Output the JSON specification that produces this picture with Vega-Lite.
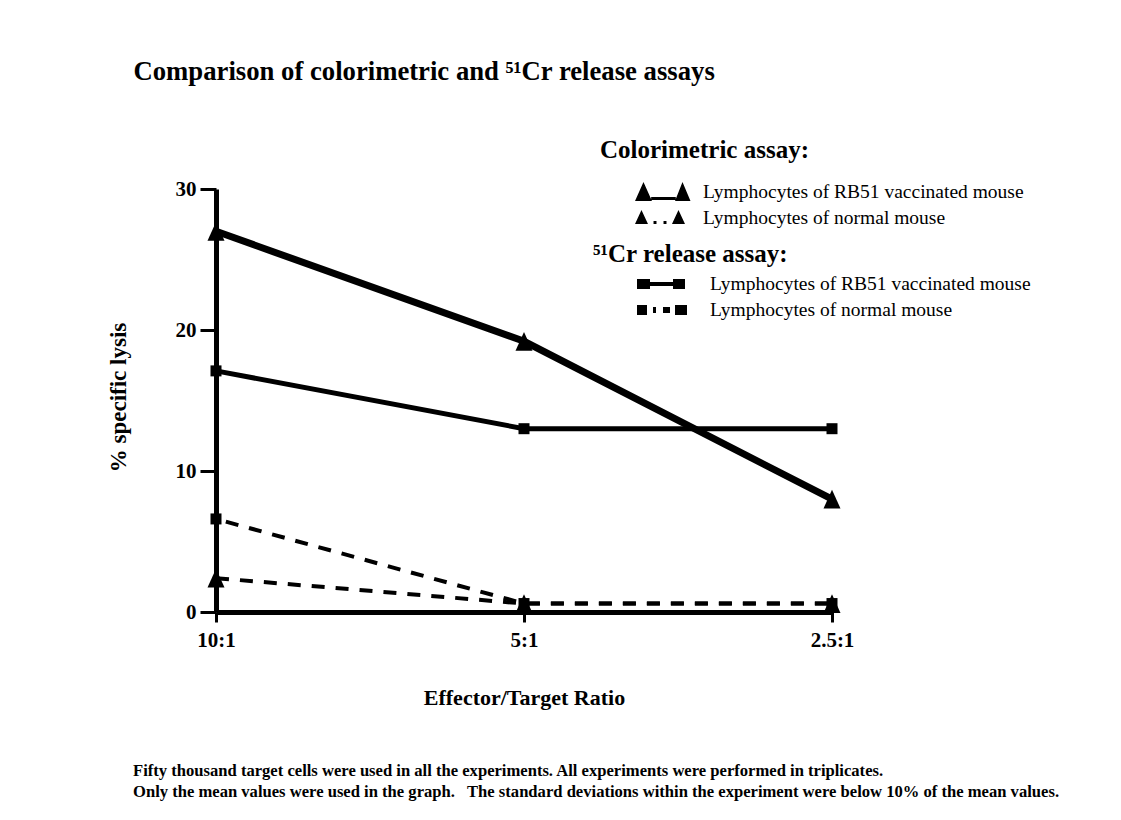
{
  "$schema": "https://vega.github.io/schema/vega-lite/v6.json",
  "width": 616,
  "height": 423,
  "autosize": {"type": "none"},
  "padding": {"left": 216, "top": 189, "right": 289, "bottom": 208},
  "background": "white",
  "title": {
    "text": ["Fifty thousand target cells were used in all the experiments. All experiments were performed in triplicates.", "Only the mean values were used in the graph.\u00a0\u00a0 The standard deviations within the experiment were below 10% of the mean values."],
    "orient": "bottom",
    "anchor": "start",
    "frame": "group",
    "dx": -83,
    "offset": 55,
    "font": "Liberation Serif",
    "fontSize": 16.6,
    "fontWeight": "bold",
    "lineHeight": 21,
    "color": "black"
  },
  "data": {
    "values": [
      {"ratio": "10:1", "assay": "Colorimetric", "mouse": "RB51", "label": "Lymphocytes of RB51 vaccinated mouse", "lysis": 27},
      {"ratio": "5:1", "assay": "Colorimetric", "mouse": "RB51", "label": "Lymphocytes of RB51 vaccinated mouse", "lysis": 19.2},
      {"ratio": "2.5:1", "assay": "Colorimetric", "mouse": "RB51", "label": "Lymphocytes of RB51 vaccinated mouse", "lysis": 8},
      {"ratio": "10:1", "assay": "Colorimetric", "mouse": "normal", "label": "Lymphocytes of normal mouse", "lysis": 2.4},
      {"ratio": "5:1", "assay": "Colorimetric", "mouse": "normal", "label": "Lymphocytes of normal mouse", "lysis": 0.6},
      {"ratio": "2.5:1", "assay": "Colorimetric", "mouse": "normal", "label": "Lymphocytes of normal mouse", "lysis": 0.6},
      {"ratio": "10:1", "assay": "Cr", "mouse": "RB51", "label": "Lymphocytes of RB51 vaccinated mouse", "lysis": 17.1},
      {"ratio": "5:1", "assay": "Cr", "mouse": "RB51", "label": "Lymphocytes of RB51 vaccinated mouse", "lysis": 13},
      {"ratio": "2.5:1", "assay": "Cr", "mouse": "RB51", "label": "Lymphocytes of RB51 vaccinated mouse", "lysis": 13},
      {"ratio": "10:1", "assay": "Cr", "mouse": "normal", "label": "Lymphocytes of normal mouse", "lysis": 6.6},
      {"ratio": "5:1", "assay": "Cr", "mouse": "normal", "label": "Lymphocytes of normal mouse", "lysis": 0.6},
      {"ratio": "2.5:1", "assay": "Cr", "mouse": "normal", "label": "Lymphocytes of normal mouse", "lysis": 0.6}
    ]
  },
  "encoding": {
    "y": {
      "field": "lysis",
      "type": "quantitative",
      "scale": {"domain": [0, 30], "nice": false, "zero": true},
      "axis": {
        "values": [0, 10, 20, 30],
        "grid": false,
        "domainColor": "black",
        "domainWidth": 5,
        "tickColor": "black",
        "tickWidth": 3,
        "tickSize": 16,
        "labelFont": "Liberation Serif",
        "labelFontSize": 21,
        "labelFontWeight": "bold",
        "labelColor": "black",
        "labelPadding": 4,
        "title": "% specific lysis",
        "titleFont": "Liberation Serif",
        "titleFontSize": 23,
        "titleFontWeight": "bold",
        "titleColor": "black",
        "titleX": -91,
        "titleY": 208,
        "titleAngle": -90,
        "titleAlign": "center",
        "titleBaseline": "alphabetic"
      }
    }
  },
  "resolve": {
    "axis": {"x": "independent"},
    "scale": {"shape": "independent"},
    "legend": {"shape": "independent"}
  },
  "layer": [
    {
      "transform": [{"filter": "datum.assay == 'Colorimetric' && datum.mouse == 'RB51'"}],
      "mark": {"type": "line", "color": "black", "strokeWidth": 7},
      "encoding": {
        "x": {
          "field": "ratio",
          "type": "ordinal",
          "sort": null,
          "scale": {"type": "point", "padding": 0, "domain": ["10:1", "5:1", "2.5:1"]},
          "axis": {
            "orient": "bottom",
            "labelAngle": 0,
            "grid": false,
            "domainColor": "black",
            "domainWidth": 5,
            "tickColor": "black",
            "tickWidth": 3,
            "tickSize": 10,
            "labelFont": "Liberation Serif",
            "labelFontSize": 21,
            "labelFontWeight": "bold",
            "labelColor": "black",
            "labelPadding": 7,
            "title": "Effector/Target Ratio",
            "titleFont": "Liberation Serif",
            "titleFontSize": 22,
            "titleFontWeight": "bold",
            "titleColor": "black",
            "titleY": 92,
            "titleBaseline": "alphabetic"
          }
        }
      }
    },
    {
      "transform": [{"filter": "datum.assay == 'Cr' && datum.mouse == 'RB51'"}],
      "mark": {"type": "line", "color": "black", "strokeWidth": 5},
      "encoding": {
        "x": {"field": "ratio", "type": "ordinal", "sort": null, "scale": {"type": "point", "padding": 0, "domain": ["10:1", "5:1", "2.5:1"]}, "axis": null}
      }
    },
    {
      "transform": [{"filter": "datum.assay == 'Colorimetric' && datum.mouse == 'normal'"}],
      "mark": {"type": "line", "color": "black", "strokeWidth": 4, "strokeDash": [13, 11]},
      "encoding": {
        "x": {"field": "ratio", "type": "ordinal", "sort": null, "scale": {"type": "point", "padding": 0, "domain": ["10:1", "5:1", "2.5:1"]}, "axis": null}
      }
    },
    {
      "transform": [{"filter": "datum.assay == 'Cr' && datum.mouse == 'normal'"}],
      "mark": {"type": "line", "color": "black", "strokeWidth": 4, "strokeDash": [13, 11], "strokeDashOffset": 13.8},
      "encoding": {
        "x": {"field": "ratio", "type": "ordinal", "sort": null, "scale": {"type": "point", "padding": 0, "domain": ["10:1", "5:1", "2.5:1"]}, "axis": null}
      }
    },
    {
      "transform": [{"filter": "datum.assay == 'Colorimetric'"}],
      "mark": {"type": "point", "shape": "M-1,1.1L0,-1.1L1,1.1Z", "size": 289, "filled": true, "color": "black", "opacity": 1},
      "encoding": {
        "x": {
          "field": "ratio",
          "type": "ordinal",
          "sort": null,
          "scale": {"type": "point", "padding": 0, "domain": ["10:1", "5:1", "2.5:1"]},
          "axis": {
            "orient": "top",
            "domain": false,
            "ticks": false,
            "labels": false,
            "grid": false,
            "title": "Comparison of colorimetric and ⁵¹Cr release assays",
            "titleFont": "Liberation Serif",
            "titleFontSize": 26.7,
            "titleFontWeight": "bold",
            "titleColor": "black",
            "titleAnchor": "start",
            "titleAlign": "left",
            "titleBaseline": "alphabetic",
            "titleX": -83,
            "titleY": -110
          }
        }
      }
    },
    {
      "transform": [{"filter": "datum.assay == 'Cr'"}],
      "mark": {"type": "point", "shape": "square", "size": 121, "filled": true, "color": "black", "opacity": 1},
      "encoding": {
        "x": {"field": "ratio", "type": "ordinal", "sort": null, "scale": {"type": "point", "padding": 0, "domain": ["10:1", "5:1", "2.5:1"]}, "axis": null}
      }
    },
    {
      "transform": [{"filter": "datum.assay == 'Colorimetric'"}],
      "mark": {"type": "point", "filled": true, "color": "black", "opacity": 0},
      "encoding": {
        "x": {"field": "ratio", "type": "ordinal", "sort": null, "scale": {"type": "point", "padding": 0, "domain": ["10:1", "5:1", "2.5:1"]}, "axis": null},
        "shape": {
          "field": "label",
          "type": "nominal",
          "scale": {
            "domain": ["Lymphocytes of RB51 vaccinated mouse", "Lymphocytes of normal mouse"],
            "range": [
              "M-0.247,0.194L-0.065,-0.215L0.118,0.194Z M0.613,0.194L0.774,-0.215L0.946,0.194Z M0.1,0.108H0.63V0.172H0.1Z",
              "M-0.247,0.129L-0.108,-0.172L0.032,0.129Z M0.151,0.065H0.215V0.129H0.151Z M0.366,0.065H0.43V0.129H0.366Z M0.548,0.129L0.688,-0.172L0.828,0.129Z"
            ]
          },
          "legend": {
            "title": "Colorimetric assay:",
            "orient": "none",
            "legendX": 384,
            "legendY": -51,
            "padding": 0,
            "symbolSize": 8649,
            "symbolStrokeWidth": 0,
            "symbolOpacity": 1,
            "symbolFillColor": "black",
            "clipHeight": 24,
            "rowPadding": 2,
            "labelOffset": 10,
            "labelFont": "Liberation Serif",
            "labelFontSize": 19.5,
            "labelColor": "black",
            "labelLimit": 0,
            "titleFont": "Liberation Serif",
            "titleFontSize": 25,
            "titleFontWeight": "bold",
            "titleColor": "black",
            "titlePadding": 17,
            "titleLimit": 0
          }
        }
      }
    },
    {
      "transform": [{"filter": "datum.assay == 'Cr'"}],
      "mark": {"type": "point", "filled": true, "color": "black", "opacity": 0},
      "encoding": {
        "x": {"field": "ratio", "type": "ordinal", "sort": null, "scale": {"type": "point", "padding": 0, "domain": ["10:1", "5:1", "2.5:1"]}, "axis": null},
        "shape": {
          "field": "label",
          "type": "nominal",
          "scale": {
            "domain": ["Lymphocytes of RB51 vaccinated mouse", "Lymphocytes of normal mouse"],
            "range": [
              "M-0.178,-0.093H0.065V0.093H-0.178Z M0.06,-0.037H0.5V0.037H0.06Z M0.495,-0.093H0.72V0.093H0.495Z",
              "M-0.178,-0.093H0.009V0.093H-0.178Z M0.121,-0.056H0.178V0.056H0.121Z M0.308,-0.056H0.439V0.056H0.308Z M0.533,-0.093H0.757V0.093H0.533Z"
            ]
          },
          "legend": {
            "title": "⁵¹Cr release assay:",
            "orient": "none",
            "legendX": 377,
            "legendY": 53,
            "padding": 0,
            "symbolSize": 11449,
            "symbolStrokeWidth": 0,
            "symbolOpacity": 1,
            "symbolFillColor": "black",
            "clipHeight": 24,
            "rowPadding": 2,
            "labelOffset": 10,
            "labelFont": "Liberation Serif",
            "labelFontSize": 19.5,
            "labelColor": "black",
            "labelLimit": 0,
            "titleFont": "Liberation Serif",
            "titleFontSize": 25,
            "titleFontWeight": "bold",
            "titleColor": "black",
            "titlePadding": 5,
            "titleLimit": 0
          }
        }
      }
    }
  ],
  "config": {
    "view": {"stroke": null},
    "font": "Liberation Serif"
  }
}
